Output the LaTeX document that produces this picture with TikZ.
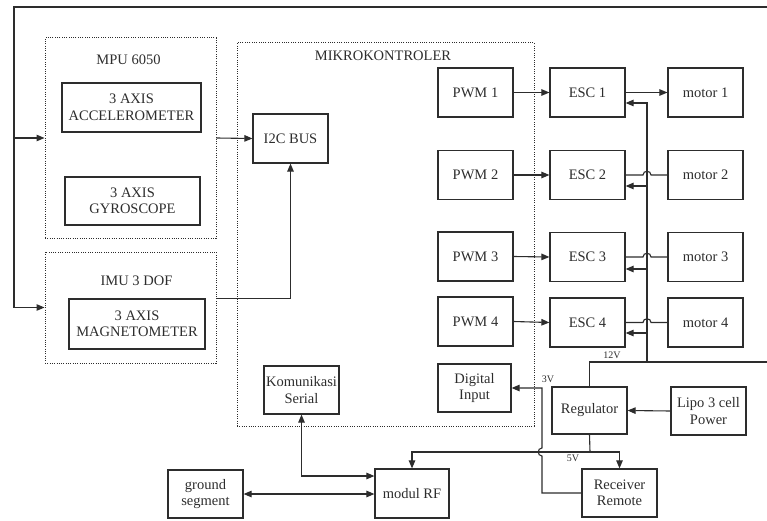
\documentclass[tikz,border=0pt]{standalone}
\usepackage{fontspec}
\setmainfont{Liberation Serif}
\usetikzlibrary{arrows.meta,calc}
\definecolor{lc}{RGB}{45,45,45}
\begin{document}
\begin{tikzpicture}[x=1pt,y=-1pt,
  every node/.style={text=lc},
  box/.style={draw=lc,line width=1.2pt,inner sep=0pt,align=center,font=\fontsize{14.5}{16.5}\selectfont},
  grp/.style={draw=lc,line width=1pt,dash pattern=on 1pt off 1.3pt,inner sep=0pt},
  ttl/.style={font=\fontsize{14.5}{16.5}\selectfont,inner sep=0pt},
  lbl/.style={font=\fontsize{10}{11}\selectfont,inner sep=0pt},
  wire/.style={draw=lc,line width=1.1pt},
  arr/.style={wire,-{Triangle[length=8pt,width=6.5pt]}},
  arrb/.style={wire,{Triangle[length=8pt,width=6.5pt]}-{Triangle[length=8pt,width=6.5pt]}}]
\useasboundingbox (0,0) rectangle (767,521);
% groups
\node[grp,minimum width=171,minimum height=200] (mpu) at (130.5,138) {};
\node[grp,minimum width=171,minimum height=111] (imu) at (130.5,307.5) {};
\node[grp,minimum width=297,minimum height=383] (mcu) at (385.5,234.5) {};
\node[ttl] (tmpu) at (128.5,60) {MPU 6050};
\node[ttl] (timu) at (136.5,281) {IMU 3 DOF};
\node[ttl] (tmcu) at (383,56) {MIKROKONTROLER};
% boxes
\node[box,minimum width=139,minimum height=49] (acc) at (131.5,107.5) {3 AXIS\\ACCELEROMETER};
\node[box,minimum width=135,minimum height=48] (gyr) at (132.5,201) {3 AXIS\\GYROSCOPE};
\node[box,minimum width=136,minimum height=50] (mag) at (137,324) {3 AXIS\\MAGNETOMETER};
\node[box,minimum width=75,minimum height=49] (i2c) at (290.5,138.5) {I2C BUS};
\node[box,minimum width=75,minimum height=49] (pwm1) at (475.5,92.5) {PWM 1};
\node[box,minimum width=75,minimum height=49] (pwm2) at (475.5,175) {PWM 2};
\node[box,minimum width=75,minimum height=49] (pwm3) at (475.5,256.5) {PWM 3};
\node[box,minimum width=75,minimum height=49] (pwm4) at (475.5,321.5) {PWM 4};
\node[box,minimum width=73,minimum height=48] (din) at (474.5,388) {Digital\\Input};
\node[box,minimum width=75,minimum height=49] (esc1) at (587.5,92.5) {ESC 1};
\node[box,minimum width=75,minimum height=49] (esc2) at (587.5,175) {ESC 2};
\node[box,minimum width=75,minimum height=49] (esc3) at (587.5,257) {ESC 3};
\node[box,minimum width=75,minimum height=49] (esc4) at (587.5,322.5) {ESC 4};
\node[box,minimum width=75,minimum height=49] (mot1) at (705.5,92.5) {motor 1};
\node[box,minimum width=75,minimum height=49] (mot2) at (705.5,175) {motor 2};
\node[box,minimum width=75,minimum height=49] (mot3) at (705.5,257) {motor 3};
\node[box,minimum width=75,minimum height=49] (mot4) at (705.5,322.5) {motor 4};
\node[box,minimum width=75,minimum height=47] (reg) at (589.5,410.5) {Regulator};
\node[box,minimum width=75,minimum height=48] (lipo) at (708.5,411) {Lipo 3 cell\\Power};
\node[box,minimum width=75,minimum height=48] (rx) at (619.5,493) {Receiver\\Remote};
\node[box,minimum width=75,minimum height=48] (kom) at (301.5,390) {Komunikasi\\Serial};
\node[box,minimum width=74,minimum height=49] (rf) at (412,493.5) {modul RF};
\node[box,minimum width=75,minimum height=48] (gnd) at (205.5,494) {ground\\segment};
% labels
\node[lbl] (l12) at (612,355) {12V};
\node[lbl] (l3) at (548,379) {3V};
\node[lbl] (l5) at (573,458) {5V};
% coordinates
\coordinate (tr) at (767,7);
\coordinate (ol) at (14,7);
\coordinate (r12) at (767,362);
\coordinate (pb) at (647,362);
\coordinate (v5) at (590,452);
% outer loop
\draw[wire] (tr) -- (ol) -- (ol |- mpu.west);
\draw[arr] (ol |- mpu.west) -- (mpu.west);
\draw[arr] (ol |- mpu.west) |- (imu.west);
% sensors to I2C
\draw[arr] (mpu.east) -- (i2c.west);
\draw[arr] (imu.east |- mag.north) -| (i2c.south);
% PWM to ESC
\draw[arr] (pwm1.east) -- (esc1.west);
\draw[arr] (pwm2.east) -- (esc2.west);
\draw[arr] (pwm3.east) -- (esc3.west);
\draw[arr] (pwm4.east) -- (esc4.west);
\draw[arr] (esc1.east) -- (mot1.west);
% motors back with hops
\draw[wire] (mot2.west) -- (651,175) .. controls (651,170) and (643,170) .. (643,175) -- (esc2.east);
\draw[wire] (mot3.west) -- (651,257) .. controls (651,252) and (643,252) .. (643,257) -- (esc3.east);
\draw[wire] (mot4.west) -- (651,322.5) .. controls (651,317.5) and (643,317.5) .. (643,322.5) -- (esc4.east);
% 12V bus
\draw[wire] (reg.north) |- (r12);
\draw[arr] (pb) |- ($(esc1.east)+(0,10.5)$);
\draw[arr] (pb |- 0,186) -- ($(esc2.east)+(0,11)$);
\draw[arr] (pb |- 0,269) -- ($(esc3.east)+(0,12)$);
\draw[arr] (pb |- 0,333) -- ($(esc4.east)+(0,10.5)$);
% power
\draw[arr] (lipo.west) -- (reg.east);
\draw[wire] (reg.south) -- (v5);
\draw[arr] (v5) -| (rx.north);
\draw[arr] (v5) -| (rf.north);
\draw[arr] (rx.west) -- (542,493) -- (542,456) .. controls (537,456) and (537,448) .. (542,448) |- (din.east);
% comms
\draw[arrb] (kom.south) |- ($(rf.west)+(0,-17.5)$);
\draw[arrb] (gnd.east) -- (gnd.east -| rf.west);
\end{tikzpicture}
\end{document}
